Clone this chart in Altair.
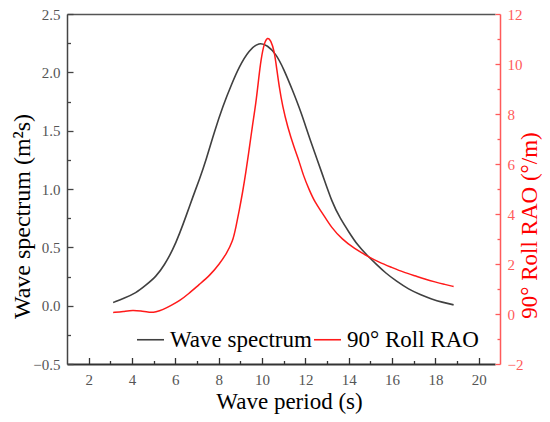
import altair as alt
import pandas as pd

# ---- data ----
period_spec = [3.13, 3.6, 4.2, 4.6, 5.12, 5.5, 5.89, 6.2, 6.5, 6.8, 7.11, 7.42, 7.8, 8.19,
               8.6, 8.95, 9.4, 9.87, 10.25, 10.64, 11.0, 11.4, 11.8, 12.2, 12.78, 13.24,
               13.6, 14.01, 14.4, 14.85, 15.3, 15.7, 16.2, 16.77, 17.3, 17.84, 18.3, 18.84]
spectrum = [0.027, 0.06, 0.11, 0.17, 0.25, 0.35, 0.48, 0.62, 0.77, 0.93, 1.08, 1.25, 1.49, 1.71,
            1.90, 2.05, 2.19, 2.26, 2.23, 2.16, 2.03, 1.85, 1.66, 1.43, 1.13, 0.88,
            0.75, 0.63, 0.52, 0.43, 0.35, 0.28, 0.21, 0.14, 0.095, 0.056, 0.03, 0.007]

period_rao = [3.13, 3.6, 4.05, 4.4, 4.82, 5.1, 5.43, 5.8, 6.2, 6.6, 7.11, 7.6, 8.03, 8.35,
              8.65, 8.8, 8.95, 9.11, 9.25, 9.41, 9.55, 9.72, 9.85, 9.95, 10.1, 10.26, 10.4,
              10.56, 10.68, 10.79, 10.95, 11.17, 11.5, 11.7, 11.9, 12.17, 12.45, 12.78, 13.2,
              13.7, 14.25, 14.85, 15.4, 16.0, 16.5, 17.08, 17.5, 17.99, 18.4, 18.84]
roll_rao = [0.06, 0.10, 0.16, 0.12, 0.06, 0.08, 0.17, 0.34, 0.53, 0.80, 1.19, 1.55, 2.0, 2.4,
            2.9, 3.5, 4.15, 4.9, 5.65, 6.6, 7.5, 8.44, 9.45, 10.17, 10.85, 11.08, 10.95,
            10.55, 9.8, 9.10, 8.3, 7.51, 6.6, 6.15, 5.55, 4.98, 4.45, 4.05, 3.45,
            2.99, 2.62, 2.32, 2.07, 1.86, 1.68, 1.52, 1.40, 1.28, 1.19, 1.10]

SPEC = "Wave spectrum"
RAO = "90\u00b0 Roll RAO"

x_major = [2, 4, 6, 8, 10, 12, 14, 16, 18, 20]
x_minor = [3, 5, 7, 9, 11, 13, 15, 17, 19]
yl_major = [-0.5, 0.0, 0.5, 1.0, 1.5, 2.0, 2.5]
yl_minor = [-0.25, 0.25, 0.75, 1.25, 1.75, 2.25]
yr_major = [-2, 0, 2, 4, 6, 8, 10, 12]
yr_minor = [-1, 1, 3, 5, 7, 9, 11]

x_domain = [1.0, 20.75]
yl_domain = [-0.5, 2.5]
yr_domain = [-2, 12]

W, H = 428, 350

df_spec = pd.DataFrame({"T": period_spec, "S": spectrum, "series": SPEC})
df_rao = pd.DataFrame({"T": period_rao, "R": roll_rao, "series": RAO})

# ---- styling ----
TICK_FONT = "Liberation Serif"
TITLE_FONT = "Liberation Serif"
DARK = "#404040"
RED = "#ff1a1a"
RED_AXIS = "#ff5a5a"

x_scale = alt.Scale(domain=x_domain, nice=False, zero=False)
yl_scale = alt.Scale(domain=yl_domain, nice=False, zero=False)
yr_scale = alt.Scale(domain=yr_domain, nice=False, zero=False)

color = alt.Color(
    "series:N",
    scale=alt.Scale(domain=[SPEC, RAO], range=[DARK, RED]),
    legend=alt.Legend(
        title=None, orient="none", legendX=69, legendY=311, direction="horizontal",
        symbolType="stroke", symbolSize=729, symbolStrokeWidth=1.6,
        labelFont=TITLE_FONT, labelFontSize=23, labelColor="black", labelLimit=300,
        labelOffset=5, columnPadding=-2, padding=0,
    ),
)


def tick_axis(orient, offset, values, size, col):
    return alt.Axis(orient=orient, offset=offset, values=values, labels=False, domain=False,
                    ticks=True, tickSize=size, tickColor=col, tickWidth=1.3, grid=False,
                    title=None)


# ---- left (wave spectrum) group ----
spec_line = alt.Chart(df_spec).mark_line(strokeWidth=1.6, interpolate="basis").encode(
    x=alt.X("T:Q", scale=x_scale, axis=alt.Axis(
        orient="bottom", values=x_major, format="d", ticks=False, tickSize=0, labelPadding=8,
        labelFont=TICK_FONT, labelFontSize=15, labelColor="#555", domainColor="#333",
        domainWidth=2, grid=False, title="Wave period (s)", titleFont=TITLE_FONT,
        titleFontSize=23, titleFontWeight="normal", titleColor="black", titleX=222,
        titleY=44, titleAlign="center", titleBaseline="alphabetic")),
    y=alt.Y("S:Q", scale=yl_scale, axis=alt.Axis(
        orient="left", values=yl_major, format=".1f", ticks=False, tickSize=0, labelPadding=7,
        labelFont=TICK_FONT, labelFontSize=15, labelColor="#555", domainColor="#444",
        domainWidth=1.5, grid=False, title="Wave spectrum (m\u00b2s)", titleFont=TITLE_FONT,
        titleFontSize=24, titleFontWeight="normal", titleColor="black", titleAngle=270,
        titleX=-38, titleY=202, titleAlign="center", titleBaseline="alphabetic")),
    color=color,
)

spec_major = alt.Chart(df_spec).mark_line(strokeOpacity=0).encode(
    x=alt.X("T:Q", scale=x_scale, axis=tick_axis("top", -H, x_major, 6.5, "#333")),
    y=alt.Y("S:Q", scale=yl_scale, axis=tick_axis("right", -W, yl_major, 6, "#444")),
)
spec_minor = alt.Chart(df_spec).mark_line(strokeOpacity=0).encode(
    x=alt.X("T:Q", scale=x_scale, axis=tick_axis("top", -H, x_minor, 3.5, "#333")),
    y=alt.Y("S:Q", scale=yl_scale, axis=tick_axis("right", -W, yl_minor, 3.5, "#444")),
)
top_frame = alt.Chart(df_spec).mark_line(strokeOpacity=0).encode(
    x=alt.X("T:Q", scale=x_scale, axis=alt.Axis(
        orient="top", labels=False, ticks=False, domain=True, domainColor="#555",
        domainWidth=1.5, grid=False, title=None)),
    y=alt.Y("S:Q", scale=yl_scale, axis=None),
)

left_group = alt.layer(spec_line, spec_major, spec_minor, top_frame)

# ---- right (roll RAO) group ----
rao_line = alt.Chart(df_rao).mark_line(strokeWidth=1.5, interpolate="basis").encode(
    x=alt.X("T:Q", scale=x_scale, axis=None),
    y=alt.Y("R:Q", scale=yr_scale, axis=alt.Axis(
        orient="right", offset=5, values=yr_major, format="d", ticks=False, tickSize=0,
        labelPadding=7, labelFont=TICK_FONT, labelFontSize=15, labelColor=RED_AXIS,
        domainColor=RED_AXIS, domainWidth=1.5, grid=False,
        title="90\u00b0 Roll RAO (\u00b0/m)", titleFont=TITLE_FONT, titleFontSize=23,
        titleFontWeight="normal", titleColor="#ff0000", titleAngle=270, titleX=36,
        titleY=211, titleAlign="center", titleBaseline="alphabetic")),
    color=color,
)
rao_major = alt.Chart(df_rao).mark_line(strokeOpacity=0).encode(
    x=alt.X("T:Q", scale=x_scale, axis=None),
    y=alt.Y("R:Q", scale=yr_scale, axis=tick_axis("left", -(W + 5), yr_major, 5, RED_AXIS)),
)
rao_minor = alt.Chart(df_rao).mark_line(strokeOpacity=0).encode(
    x=alt.X("T:Q", scale=x_scale, axis=None),
    y=alt.Y("R:Q", scale=yr_scale, axis=tick_axis("left", -(W + 5), yr_minor, 3, RED_AXIS)),
)

right_group = alt.layer(rao_line, rao_major, rao_minor)

chart = (
    alt.layer(left_group, right_group)
    .resolve_scale(y="independent")
    .properties(
        width=W, height=H,
        autosize=alt.AutoSizeParams(type="none"),
        padding={"left": 59, "top": 6, "right": 47, "bottom": 50},
        background="white",
    )
    .configure_view(stroke=None)
)

chart.save("out.html", embed_options={"renderer": "svg", "actions": False})
